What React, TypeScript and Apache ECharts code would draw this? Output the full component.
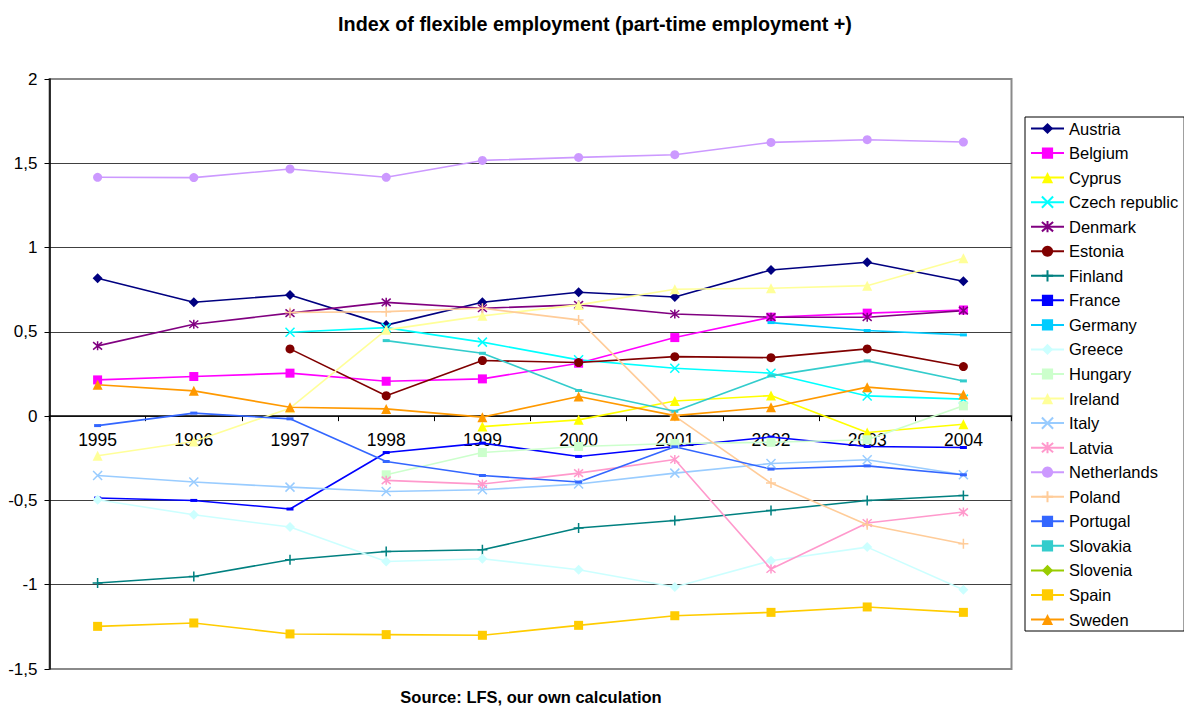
import React, { useEffect, useRef } from "react";
import * as echarts from "echarts";

const years = ["1995", "1996", "1997", "1998", "1999", "2000", "2001", "2002", "2003", "2004"];
const yTicks = { min: -1.5, max: 2, interval: 0.5 };

const austria = [0.818, 0.676, 0.719, 0.54, 0.676, 0.735, 0.707, 0.867, 0.913, 0.8];
const belgium = [0.215, 0.235, 0.255, 0.207, 0.221, 0.314, 0.466, 0.587, 0.611, 0.63];
const cyprus = [null, null, null, null, -0.062, -0.022, 0.09, 0.122, -0.097, -0.048];
const czechRepublic = [null, null, 0.498, 0.525, 0.439, 0.334, 0.284, 0.255, 0.12, 0.101];
const denmark = [0.417, 0.545, 0.611, 0.675, 0.64, 0.66, 0.606, 0.587, 0.587, 0.626];
const estonia = [null, null, 0.399, 0.121, 0.33, 0.318, 0.353, 0.347, 0.399, 0.294];
const finland = [-0.99, -0.951, -0.852, -0.803, -0.793, -0.664, -0.619, -0.56, -0.5, -0.471];
const france = [-0.486, -0.5, -0.551, -0.216, -0.16, -0.239, -0.18, -0.124, -0.18, -0.186];
const germany = [null, null, null, null, null, null, null, 0.555, 0.508, 0.482];
const greece = [-0.496, -0.585, -0.658, -0.862, -0.846, -0.911, -1.014, -0.858, -0.777, -1.03];
const hungary = [null, null, null, -0.348, -0.216, -0.18, -0.162, -0.155, -0.14, 0.061];
const ireland = [-0.235, -0.15, 0.047, 0.512, 0.595, 0.66, 0.753, 0.759, 0.774, 0.937];
const italy = [-0.352, -0.391, -0.421, -0.447, -0.437, -0.403, -0.338, -0.281, -0.259, -0.348];
const latvia = [null, null, null, -0.381, -0.403, -0.338, -0.257, -0.907, -0.634, -0.569];
const netherlands = [1.417, 1.415, 1.466, 1.417, 1.517, 1.535, 1.551, 1.624, 1.64, 1.626];
const poland = [null, null, 0.615, 0.62, 0.64, 0.571, 0.0, -0.397, -0.644, -0.757];
const portugal = [-0.056, 0.018, -0.016, -0.269, -0.352, -0.391, -0.182, -0.314, -0.295, -0.348];
const slovakia = [null, null, null, 0.448, 0.373, 0.152, 0.029, 0.239, 0.328, 0.209];
const slovenia = [null, null, null, null, null, null, null, null, null, null];
const spain = [-1.247, -1.227, -1.292, -1.296, -1.3, -1.241, -1.184, -1.164, -1.132, -1.164];
const sweden = [0.186, 0.15, 0.053, 0.043, -0.006, 0.116, 0.003, 0.053, 0.172, 0.128];

const X_SYM = "path://M0,0L10,10M10,0L0,10";
const STAR_SYM = "path://M0,0L10,10M10,0L0,10M5,-1L5,11";
const PLUS_SYM = "path://M5,0L5,10M0,5L10,5";

type Def = { name: string; data: (number | null)[]; color: string; symbol: string; size: number | number[]; stroke?: boolean };

const defs: Def[] = [
  { name: "Austria", data: austria, color: "#000080", symbol: "diamond", size: 10 },
  { name: "Belgium", data: belgium, color: "#FF00FF", symbol: "rect", size: 9 },
  { name: "Cyprus", data: cyprus, color: "#FFFF00", symbol: "triangle", size: 10 },
  { name: "Czech republic", data: czechRepublic, color: "#00FFFF", symbol: X_SYM, size: 9, stroke: true },
  { name: "Denmark", data: denmark, color: "#800080", symbol: STAR_SYM, size: 9, stroke: true },
  { name: "Estonia", data: estonia, color: "#800000", symbol: "circle", size: 9 },
  { name: "Finland", data: finland, color: "#008080", symbol: PLUS_SYM, size: 10, stroke: true },
  { name: "France", data: france, color: "#0000FF", symbol: "rect", size: [7, 3] },
  { name: "Germany", data: germany, color: "#00CCFF", symbol: "rect", size: [7, 3] },
  { name: "Greece", data: greece, color: "#CCFFFF", symbol: "diamond", size: 10 },
  { name: "Hungary", data: hungary, color: "#CCFFCC", symbol: "rect", size: 9 },
  { name: "Ireland", data: ireland, color: "#FFFF99", symbol: "triangle", size: 10 },
  { name: "Italy", data: italy, color: "#99CCFF", symbol: X_SYM, size: 9, stroke: true },
  { name: "Latvia", data: latvia, color: "#FF99CC", symbol: STAR_SYM, size: 9, stroke: true },
  { name: "Netherlands", data: netherlands, color: "#CC99FF", symbol: "circle", size: 9 },
  { name: "Poland", data: poland, color: "#FFCC99", symbol: PLUS_SYM, size: 10, stroke: true },
  { name: "Portugal", data: portugal, color: "#3366FF", symbol: "rect", size: [7, 3] },
  { name: "Slovakia", data: slovakia, color: "#33CCCC", symbol: "rect", size: [7, 3] },
  { name: "Slovenia", data: slovenia, color: "#99CC00", symbol: "diamond", size: 10 },
  { name: "Spain", data: spain, color: "#FFCC00", symbol: "rect", size: 9 },
  { name: "Sweden", data: sweden, color: "#FF9900", symbol: "triangle", size: 10 },
];

const GRID_TOP = 79;
const GRID_BOTTOM = 37;
const CHART_H = 706;

export default function App() {
  const ref = useRef<HTMLDivElement>(null);
  useEffect(() => {
    if (!ref.current) return;
    const chart = echarts.init(ref.current, undefined, { renderer: "svg" });
    const font = "Arial, 'Liberation Sans', sans-serif";
    const plotH = CHART_H - GRID_TOP - GRID_BOTTOM;
    const zeroOffset = -((0 - yTicks.min) / (yTicks.max - yTicks.min)) * plotH;
    chart.setOption({
      animation: false,
      backgroundColor: "#ffffff",
      textStyle: { fontFamily: font },
      title: {
        text: "Index of flexible employment (part-time employment +)",
        left: 590,
        top: 9,
        textAlign: "center",
        textStyle: { fontFamily: font, fontSize: 19.8, fontWeight: "bold", color: "#000" },
      },
      graphic: [
        {
          type: "text",
          x: 531,
          y: 697,
          style: {
            text: "Source: LFS, our own calculation",
            fontFamily: font,
            fontSize: 16.5,
            fontWeight: "bold",
            fill: "#000",
            textAlign: "center",
            textVerticalAlign: "middle",
          },
        },
      ],
      legend: {
        orient: "vertical",
        left: 1025,
        top: 117,
        padding: [3, 6, 3, 5],
        itemGap: 7.55,
        itemWidth: 33,
        itemHeight: 14,
        borderColor: "#000",
        borderWidth: 1,
        backgroundColor: "#fff",
        textStyle: { fontFamily: font, fontSize: 16.5, color: "#000" },
        data: defs.map((d) => d.name),
      },
      grid: {
        left: 49.5,
        right: 172.5,
        top: GRID_TOP,
        bottom: GRID_BOTTOM,
        show: true,
        borderColor: "#8a8a8a",
        borderWidth: 2,
        backgroundColor: "#fff",
      },
      xAxis: {
        type: "category",
        data: years,
        boundaryGap: true,
        position: "bottom",
        offset: zeroOffset,
        axisLine: { onZero: false, lineStyle: { color: "#000", width: 1.5 } },
        axisTick: { show: true, length: 5, lineStyle: { color: "#000" } },
        axisLabel: { fontFamily: font, fontSize: 17.5, color: "#000", margin: 15 },
        splitLine: { show: false },
      },
      yAxis: {
        type: "value",
        min: yTicks.min,
        max: yTicks.max,
        interval: yTicks.interval,
        axisLine: { show: true, lineStyle: { color: "#000", width: 1.5 } },
        axisTick: { show: true, length: 5, lineStyle: { color: "#000" } },
        axisLabel: {
          fontFamily: font,
          fontSize: 17,
          color: "#000",
          margin: 12,
          formatter: (v: number) => String(v).replace(".", ","),
        },
        splitLine: { show: true, showMinLine: false, showMaxLine: false, lineStyle: { color: "#404040", width: 1 } },
      },
      series: defs.map((d) => ({
        name: d.name,
        type: "line",
        data: d.data,
        connectNulls: false,
        symbol: d.symbol,
        symbolSize: d.size,
        showSymbol: true,
        showAllSymbol: true,
        lineStyle: { color: d.color, width: 1.6 },
        itemStyle: d.stroke
          ? { color: d.color, borderColor: d.color, borderWidth: 1.5 }
          : { color: d.color, borderWidth: 0 },
        emphasis: { disabled: true },
      })),
    });
    return () => chart.dispose();
  }, []);
  return (
    <div
      ref={ref}
      style={{ position: "fixed", left: 0, top: 0, width: 1184, height: 706, background: "#fff" }}
    />
  );
}
